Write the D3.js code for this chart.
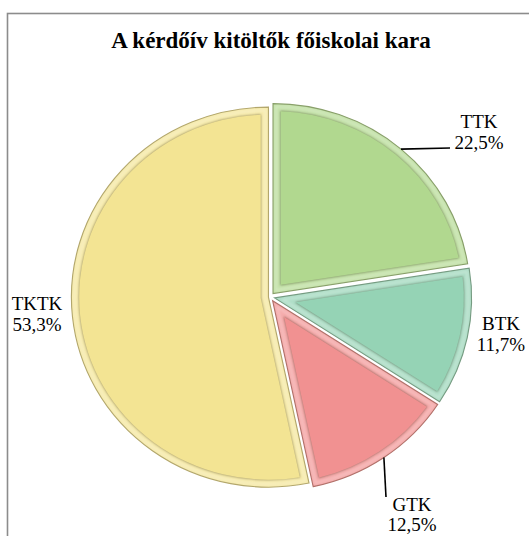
<!DOCTYPE html>
<html>
<head>
<meta charset="utf-8">
<script src="https://cdn.jsdelivr.net/npm/d3@7"></script>
<style>
  body { margin: 0; background: #fff; }
  svg { display: block; }
</style>
</head>
<body>
<script>
const w = 529;
const h = 536;

// data
const categories = ["TTK", "BTK", "GTK", "TKTK"];
const values = [22.5, 11.7, 12.5, 53.3];
const colors = ["#b1d88f", "#95d3b5", "#f19191", "#f3e493"];
const title = "A kérdőív kitöltők főiskolai kara";

const cx = 270, cy = 297, r = 190, sx = 1.037;
const explode = [4.5, 4.5, 4.5, 1.5];
const bevel = 7;

const svg = d3.select("body").append("svg").attr("width", w).attr("height", h);

// border of the chart area
svg.append("rect")
  .attr("x", 7.5).attr("y", 13.5)
  .attr("width", 640).attr("height", 640)
  .attr("fill", "none").attr("stroke", "#8c8c8c").attr("stroke-width", 1.6);

svg.append("text")
  .attr("x", 271).attr("y", 48)
  .attr("text-anchor", "middle")
  .style("font-family", "'Liberation Serif', 'Times New Roman', serif")
  .style("font-weight", "bold")
  .style("font-size", "23px")
  .text(title);

const defs = svg.append("defs");
defs.append("filter").attr("id", "soft")
  .append("feGaussianBlur").attr("stdDeviation", 0.9);

const pie = d3.pie().sort(null).value(d => d)(values);
const arc = d3.arc().innerRadius(0).outerRadius(r);

// inset wedge path (for bevel)
function insetPath(a0, a1, d) {
  const half = (a1 - a0) / 2, mid = (a0 + a1) / 2;
  const ad = d / Math.sin(half);
  const ax = ad * Math.sin(mid), ay = -ad * Math.cos(mid);
  const rr = r - d;
  const da = Math.asin(d / rr);
  const s = a0 + da, e = a1 - da;
  const large = (e - s) > Math.PI ? 1 : 0;
  return "M" + ax + "," + ay +
    "L" + rr * Math.sin(s) + "," + (-rr * Math.cos(s)) +
    "A" + rr + "," + rr + " 0 " + large + " 1 " + rr * Math.sin(e) + "," + (-rr * Math.cos(e)) + "Z";
}

const tint = (c, k) => d3.interpolateRgb(c, "#ffffff")(k);
const shade = (c, k) => d3.interpolateRgb(c, "#3a3320")(k);

const g = svg.append("g").attr("transform", `translate(${cx},${cy}) scale(${sx},1)`);

const slices = g.selectAll("g.slice")
  .data(pie)
  .enter()
  .append("g")
  .attr("class", "slice")
  .attr("transform", (d, i) => {
    const m = (d.startAngle + d.endAngle) / 2;
    return `translate(${explode[i] * Math.sin(m)},${-explode[i] * Math.cos(m)})`;
  });

slices.append("path")
  .attr("d", arc)
  .attr("fill", (d, i) => tint(colors[i], 0.25))
  .attr("stroke", (d, i) => shade(colors[i], 0.35))
  .attr("stroke-width", 1.1);

slices.append("path")
  .attr("d", (d) => insetPath(d.startAngle, d.endAngle, 3))
  .attr("fill", "none")
  .attr("stroke", (d, i) => tint(colors[i], 0.45))
  .attr("stroke-width", 1.5)
  .attr("filter", "url(#soft)");

slices.append("path")
  .attr("d", (d) => insetPath(d.startAngle, d.endAngle, bevel + 1.2))
  .attr("fill", "none")
  .attr("stroke", (d, i) => shade(colors[i], 0.45))
  .attr("stroke-width", 2)
  .attr("filter", "url(#soft)");

slices.append("path")
  .attr("d", (d) => insetPath(d.startAngle, d.endAngle, bevel + 0.5))
  .attr("fill", (d, i) => colors[i]);

// labels
const font = "'Liberation Serif', 'Times New Roman', serif";
const labelPos = [
  { x: 479, y: 128, gap: 21, line: [450, 148] },
  { x: 501, y: 330, gap: 21, line: null },
  { x: 412, y: 511, gap: 20, line: [386, 497] },
  { x: 37, y: 310, gap: 21, line: null }
];
const fmt = v => d3.format(".1f")(v).replace(".", ",") + "%";

pie.forEach((d, i) => {
  const p = labelPos[i];
  if (p.line) {
    const m = (d.startAngle + d.endAngle) / 2;
    const ex = explode[i];
    const x0 = cx + sx * ((r + ex) * Math.sin(m));
    const y0 = cy - (r + ex) * Math.cos(m);
    svg.append("line")
      .attr("x1", x0).attr("y1", y0)
      .attr("x2", p.line[0]).attr("y2", p.line[1])
      .attr("stroke", "#000").attr("stroke-width", 1.6);
  }
  const t = svg.append("text")
    .attr("text-anchor", "middle")
    .style("font-family", font)
    .style("font-size", "19px");
  t.append("tspan").attr("x", p.x).attr("y", p.y).text(categories[i]);
  t.append("tspan").attr("x", p.x).attr("y", p.y + p.gap).text(fmt(values[i]));
});
</script>
</body>
</html>
